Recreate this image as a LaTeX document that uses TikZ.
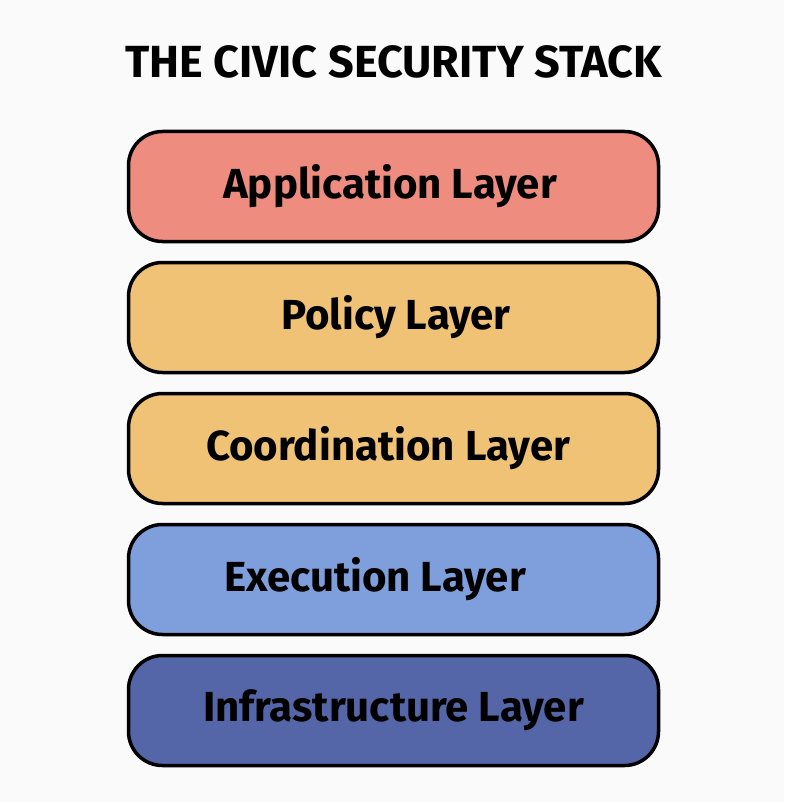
\documentclass[tikz,border=0pt]{standalone}
\usepackage{fontspec}
\setmainfont{Fira Sans}
\usetikzlibrary{positioning}
\definecolor{bgcol}{HTML}{FAFAFA}
\definecolor{appcol}{HTML}{EE8C80}
\definecolor{polcol}{HTML}{F0C276}
\definecolor{execol}{HTML}{7F9EDC}
\definecolor{infcol}{HTML}{5466A8}
\begin{document}
\begin{tikzpicture}[
  x=1pt, y=-1pt,
  layer/.style={draw, line width=3.5pt, rounded corners=34pt, minimum width=530pt, minimum height=110pt, inner sep=0pt, font=\bfseries\fontsize{42}{46}\selectfont},
  node distance=17.5pt
]
\fill[bgcol] (0,0) rectangle (784,802);
\useasboundingbox (0,0) rectangle (784,802);

\node[font=\bfseries\fontsize{45}{48}\selectfont] (title) at (393.5,62) {THE CIVIC SECURITY STACK};

\node[layer, fill=appcol] (app) at (393.5,186.5) {Application Layer\hspace*{7pt}};
\node[layer, fill=polcol, below=of app] (pol) {\hspace*{5pt}Policy Layer};
\node[layer, fill=polcol, below=of pol] (coord) {Coordination Layer\hspace*{11pt}};
\node[layer, fill=execol, below=of coord] (exec) {Execution Layer\hspace*{37pt}};
\node[layer, fill=infcol, below=of exec] (infra) {Infrastructure Layer};
\end{tikzpicture}
\end{document}
